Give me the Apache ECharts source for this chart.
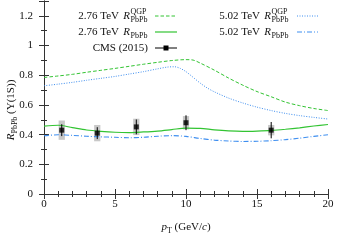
<!DOCTYPE html>
<html><head><meta charset="utf-8">
<script src="https://cdn.jsdelivr.net/npm/echarts@6/dist/echarts.min.js"></script>
<style>html,body{margin:0;padding:0;background:#fff}#c{width:337px;height:240px}</style>
</head><body><div id="c"></div>
<script>
// ---- data ----
const qgpPt = [0,1,2,3,4,5,6,7,8,9,10,10.5,11,12,13,14,15,16,17,18,19,20];
const qgp276 = [0.785,0.795,0.806,0.82,0.833,0.846,0.86,0.874,0.887,0.899,0.905,0.902,0.882,0.834,0.781,0.733,0.69,0.655,0.619,0.595,0.576,0.562];
const qgp502Pt = [0,1,2,3,4,5,6,7,8,8.7,9.2,9.6,10,10.5,11,11.5,12,13,14,15,16,17,18,19,20];
const qgp502 = [0.729,0.74,0.752,0.766,0.779,0.792,0.808,0.824,0.843,0.855,0.857,0.846,0.824,0.786,0.747,0.714,0.688,0.646,0.613,0.585,0.562,0.543,0.528,0.516,0.505];
const raaPt = [0,1,2,3,4,5,6,7,8,9,10,11,12,13,14,15,16,17,18,19,20];
const raa276 = [0.457,0.463,0.447,0.431,0.422,0.416,0.414,0.418,0.424,0.434,0.444,0.442,0.432,0.425,0.422,0.424,0.428,0.436,0.446,0.458,0.468];
const raa502 = [0.392,0.399,0.395,0.389,0.385,0.382,0.379,0.382,0.389,0.393,0.388,0.374,0.363,0.357,0.354,0.355,0.359,0.366,0.376,0.388,0.399];
const cmsPt = [1.25,3.75,6.5,10,16];
const cmsR = [0.43,0.41,0.452,0.48,0.43];
const cmsStat = [0.04,0.04,0.05,0.05,0.055];
const cmsSyst = [0.065,0.055,0.055,0.045,0.035];
const xTicks = [0,5,10,15,20];
const yTicks = [0,0.2,0.4,0.6,0.8,1,1.2];

const FONT = 'Liberation Serif';
const FS = 11, FSS = 8;
const green = '#33c433', blue = '#3f8ff0', axisCol = '#333';
const pairs = (xs, ys) => xs.map((x, i) => [x, ys[i]]);

const chart = echarts.init(document.getElementById('c'), null, {renderer: 'canvas'});

function axisCommon(showLabel) {
  return {
    axisLine: {show: true, lineStyle: {color: axisCol, width: 1}},
    axisTick: {show: true, inside: true, length: 5, lineStyle: {color: axisCol}},
    minorTick: {show: true, length: 3, lineStyle: {color: axisCol}},
    splitLine: {show: false},
    axisLabel: {show: showLabel, fontFamily: FONT, fontSize: FS, color: '#111'}
  };
}

const xBase = {type: 'value', min: xTicks[0], max: xTicks[xTicks.length-1], interval: 5};
const yBase = {type: 'value', min: yTicks[0], max: 1.3, interval: 0.2};

function legendRow(xs, y, lead, sup, sub, lineX0, lineX1, lineStyle, withMarker) {
  const els = [];
  const f = FS + 'px ' + FONT, fi = 'italic ' + FS + 'px ' + FONT, fs = FSS + 'px ' + FONT;
  if (sup !== null) {
    els.push({type: 'text', x: xs - 11, y: y, style: {text: lead, font: f, fill: '#111', textAlign: 'right', textVerticalAlign: 'middle'}});
    els.push({type: 'text', x: xs, y: y, style: {text: 'R', font: fi, fill: '#111', textAlign: 'right', textVerticalAlign: 'middle'}});
    if (sup) els.push({type: 'text', x: xs + 0.5, y: y - 4, style: {text: sup, font: fs, fill: '#111', textAlign: 'left', textVerticalAlign: 'middle'}});
    els.push({type: 'text', x: xs + 0.5, y: y + 3.5, style: {text: sub, font: fs, fill: '#111', textAlign: 'left', textVerticalAlign: 'middle'}});
  } else {
    els.push({type: 'text', x: xs + 18, y: y, style: {text: lead, font: f, fill: '#111', textAlign: 'right', textVerticalAlign: 'middle'}});
  }
  els.push({type: 'line', shape: {x1: lineX0, y1: y, x2: lineX1, y2: y}, style: lineStyle});
  if (withMarker) els.push({type: 'rect', shape: {x: (lineX0+lineX1)/2 - 2.5, y: y - 2.5, width: 5, height: 5}, style: {fill: '#000'}});
  return els;
}

const graphics = [].concat(
  legendRow(130, 16, '2.76 TeV', 'QGP', 'PbPb', 155, 177, {stroke: green, lineWidth: 1, lineDash: [3.5, 2]}),
  legendRow(130, 32, '2.76 TeV', '', 'PbPb', 155, 177, {stroke: green, lineWidth: 1.2}),
  legendRow(130, 48, 'CMS (2015)', null, '', 155, 177, {stroke: '#000', lineWidth: 1}, true),
  legendRow(271, 16, '5.02 TeV', 'QGP', 'PbPb', 297, 318, {stroke: blue, lineWidth: 1, lineDash: [1, 1.5]}),
  legendRow(271, 32, '5.02 TeV', '', 'PbPb', 297, 318, {stroke: blue, lineWidth: 1, lineDash: [5, 2, 1, 2]}),
  [{type: 'text', x: 11, y: 110, rotation: Math.PI/2,
    style: {text: '{i|R}{s|PbPb} (Υ(1S))', font: FS + 'px ' + FONT, fill: '#111', textAlign: 'center', textVerticalAlign: 'middle',
      rich: {i: {fontStyle: 'italic', fontFamily: FONT, fontSize: FS, lineHeight: 15},
             s: {fontFamily: FONT, fontSize: FSS, lineHeight: 8, verticalAlign: 'bottom'}}}}]
);

const option = {
  animation: false,
  backgroundColor: '#fff',
  grid: {left: 44, right: 9, top: 1, bottom: 36, containLabel: false},
  xAxis: [
    Object.assign({}, xBase, axisCommon(true), {position: 'bottom',
      axisLabel: {show: true, margin: 5, fontFamily: FONT, fontSize: FS, color: '#111'},
      name: '{i|p}{s|T} (GeV/{i|c})', nameLocation: 'middle', nameGap: 26,
      nameTextStyle: {fontFamily: FONT, fontSize: FS, color: '#111',
        rich: {i: {fontStyle: 'italic', fontFamily: FONT, fontSize: FS, lineHeight: 15},
               s: {fontFamily: FONT, fontSize: FSS, lineHeight: 8, verticalAlign: 'bottom'}}}}),
    Object.assign({}, xBase, axisCommon(false), {position: 'top'})
  ],
  yAxis: [
    Object.assign({}, yBase, axisCommon(true), {position: 'left',
      axisLabel: {show: true, margin: 11, fontFamily: FONT, fontSize: FS, color: '#111', showMaxLabel: false,
        formatter: v => (Math.round(v*10)/10).toString()},
      minorTick: {show: true, splitNumber: 2, length: 3, lineStyle: {color: axisCol}}}),
    Object.assign({}, yBase, axisCommon(false), {position: 'right',
      minorTick: {show: true, splitNumber: 2, length: 3, lineStyle: {color: axisCol}}})
  ],
  graphic: graphics,
  series: [
    {type: 'custom', name: 'syst', z: 1, data: cmsPt.map((x, i) => [x, cmsR[i], cmsSyst[i]]),
     renderItem: (params, api) => {
       const x = api.value(0), y = api.value(1), s = api.value(2);
       const p0 = api.coord([x - 0.22, y + s]), p1 = api.coord([x + 0.22, y - s]);
       return {type: 'rect', shape: {x: p0[0], y: p0[1], width: p1[0]-p0[0], height: p1[1]-p0[1]}, style: {fill: '#c8c8c8'}};
     }},
    {type: 'line', name: 'qgp276', z: 3, data: pairs(qgpPt, qgp276), showSymbol: false, smooth: 0.3,
     lineStyle: {color: green, width: 1, type: [3.5, 2]}},
    {type: 'line', name: 'raa276', z: 3, data: pairs(raaPt, raa276), showSymbol: false, smooth: 0.3,
     lineStyle: {color: green, width: 1.2}},
    {type: 'line', name: 'qgp502', z: 3, data: pairs(qgp502Pt, qgp502), showSymbol: false, smooth: 0.3,
     lineStyle: {color: blue, width: 1, type: [1, 1.5]}},
    {type: 'line', name: 'raa502', z: 3, data: pairs(raaPt, raa502), showSymbol: false, smooth: 0.3,
     lineStyle: {color: blue, width: 1.1, type: [5, 2, 1, 2]}},
    {type: 'custom', name: 'stat', z: 4, data: cmsPt.map((x, i) => [x, cmsR[i], cmsStat[i]]),
     renderItem: (params, api) => {
       const x = api.value(0), y = api.value(1), s = api.value(2);
       const a = api.coord([x, y + s]), b = api.coord([x, y - s]);
       return {type: 'line', shape: {x1: a[0], y1: a[1], x2: b[0], y2: b[1]}, style: {stroke: '#000', lineWidth: 1}};
     }},
    {type: 'scatter', name: 'CMS', z: 5, data: pairs(cmsPt, cmsR), symbol: 'rect', symbolSize: 5,
     itemStyle: {color: '#000'}}
  ]
};
chart.setOption(option);
</script></body></html>
